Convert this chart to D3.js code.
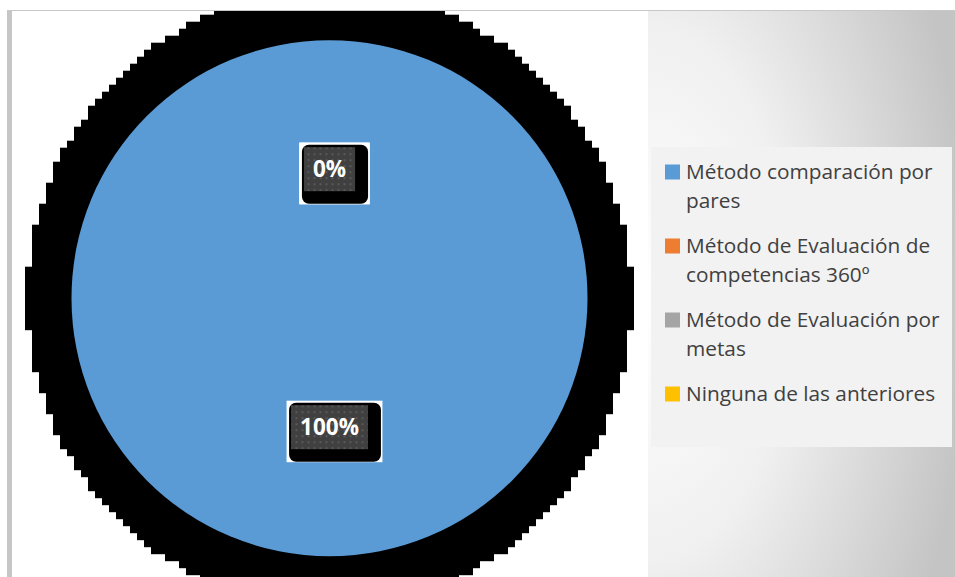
<!DOCTYPE html>
<html>
<head>
<meta charset="utf-8">
<script src="https://cdn.jsdelivr.net/npm/d3@7"></script>
<style>
  html, body { margin: 0; padding: 0; background: #ffffff; }
  svg { display: block; }
</style>
</head>
<body>
<script>
// Survey answers: which evaluation method is used
const categories = [
  "Método comparación por pares",
  "Método de Evaluación de competencias 360º",
  "Método de Evaluación por metas",
  "Ninguna de las anteriores"
];
const values = [100, 0, 0, 0];
const sliceColors = ["#5b9bd5", "#ed7d31", "#a5a5a5", "#ffc000"];

const W = 955, H = 577;
const svg = d3.select("body").append("svg").attr("width", W).attr("height", H);
const defs = svg.append("defs");

// panel gradient on the right
const grad = defs.append("radialGradient").attr("id", "panelGrad")
  .attr("cx", 0).attr("cy", 0.5).attr("r", 1.05).attr("fx", 0).attr("fy", 0.5);
grad.append("stop").attr("offset", 0).attr("stop-color", "#ffffff");
grad.append("stop").attr("offset", 0.45).attr("stop-color", "#f0f0f0");
grad.append("stop").attr("offset", 1).attr("stop-color", "#c4c4c4");

// dotted fill for the value labels
const pat = defs.append("pattern").attr("id", "dots")
  .attr("patternUnits", "userSpaceOnUse").attr("width", 6).attr("height", 6);
pat.append("rect").attr("width", 6).attr("height", 6).attr("fill", "#404040");
pat.append("rect").attr("x", 2).attr("y", 2).attr("width", 2).attr("height", 2).attr("fill", "#595959");

// plot area clip
defs.append("clipPath").attr("id", "plotClip")
  .append("rect").attr("x", 12).attr("y", 11).attr("width", 636).attr("height", H - 11);

// frame
svg.append("rect").attr("x", 7).attr("y", 10).attr("width", 5).attr("height", H - 10).attr("fill", "#c6c6c6");
svg.append("line").attr("x1", 7).attr("x2", W).attr("y1", 10.5).attr("y2", 10.5)
  .attr("stroke", "#c8c8c8").attr("stroke-width", 1);

// right panel
svg.append("rect").attr("x", 648).attr("y", 11).attr("width", W - 648).attr("height", H - 11)
  .attr("fill", "url(#panelGrad)");

// pie geometry
const cx = 329.5, cy = 298.2, radius = 258;

// blocky dark halo behind the pie
const cell = 7, haloRx = 302.5, haloRy = 309;
const rows = d3.range(-Math.floor(haloRy / cell), Math.floor(haloRy / cell) + 1).map(j => {
  const dy = j * cell;
  const half = haloRx * Math.sqrt(Math.max(0, 1 - (dy / haloRy) ** 2));
  return { dy, n: Math.floor(half / cell) };
});
svg.append("g").attr("clip-path", "url(#plotClip)")
  .selectAll("rect").data(rows).join("rect")
  .attr("x", d => cx - (d.n + 0.5) * cell)
  .attr("width", d => (2 * d.n + 1) * cell)
  .attr("y", d => cy + d.dy - cell / 2)
  .attr("height", cell + 0.5)
  .attr("fill", "#000000");

// pie
const pie = d3.pie().sort(null).value(d => d);
const arcs = pie(values);
const arc = d3.arc().innerRadius(0).outerRadius(radius);
const labelArc = d3.arc().innerRadius(radius * 0.5).outerRadius(radius * 0.5);
const total = d3.sum(values);

const g = svg.append("g").attr("transform", `translate(${cx},${cy})`);
g.selectAll("path").data(arcs).join("path")
  .attr("d", arc)
  .attr("fill", (d, i) => sliceColors[i]);

// value labels
const lab = g.selectAll("g.lab").data(arcs).join("g").attr("class", "lab")
  .attr("transform", d => `translate(${labelArc.centroid(d)})`);
lab.each(function(d) {
  const sel = d3.select(this);
  const txt = Math.round(d.data / total * 100) + "%";
  const t = sel.append("text")
    .attr("text-anchor", "middle")
    .attr("dy", "0.36em")
    .attr("font-family", "'Open Sans', sans-serif")
    .attr("font-weight", 700)
    .attr("font-size", 22.5)
    .attr("fill", "#ffffff")
    .text(txt);
  const w = t.node().getComputedTextLength();
  const gx0 = -w / 2 - 9, gx1 = w / 2 + 9, gy0 = -22, gy1 = 22;
  sel.insert("rect", "text").attr("x", gx0 - 4.5).attr("y", gy0 - 4.5)
    .attr("width", gx1 - gx0 + 19).attr("height", gy1 - gy0 + 17.5).attr("fill", "#ffffff");
  sel.insert("rect", "text").attr("x", gx0 - 2).attr("y", gy0 - 2.5)
    .attr("width", gx1 - gx0 + 15).attr("height", gy1 - gy0 + 15).attr("rx", 7)
    .attr("fill", "#000000");
  sel.insert("rect", "text").attr("x", gx0).attr("y", gy0)
    .attr("width", gx1 - gx0).attr("height", gy1 - gy0).attr("fill", "url(#dots)");
});

// legend
svg.append("rect").attr("x", 651).attr("y", 147).attr("width", 301).attr("height", 300).attr("fill", "#f2f2f2");
const legX = 665, legY = 172, itemStep = 74, lineStep = 28.5, maxW = 262;
const leg = svg.append("g");
categories.forEach((name, i) => {
  const y = legY + i * itemStep;
  leg.append("rect").attr("x", legX).attr("y", y - 7.5).attr("width", 15).attr("height", 15)
    .attr("fill", sliceColors[i]);
  const t = leg.append("text")
    .attr("x", legX + 21).attr("y", y)
    .attr("font-family", "'Open Sans', sans-serif")
    .attr("font-size", 20.8)
    .attr("fill", "#404040");
  // wrap by measured width
  const words = name.split(" ");
  let line = [], lineNo = 0;
  let ts = t.append("tspan").attr("x", legX + 21).attr("dy", "0.36em");
  words.forEach(wd => {
    line.push(wd);
    ts.text(line.join(" "));
    if (ts.node().getComputedTextLength() > maxW && line.length > 1) {
      line.pop();
      ts.text(line.join(" "));
      line = [wd];
      lineNo++;
      ts = t.append("tspan").attr("x", legX + 21).attr("y", y + lineNo * lineStep)
        .attr("dy", "0.36em").text(wd);
    }
  });
});
</script>
</body>
</html>
